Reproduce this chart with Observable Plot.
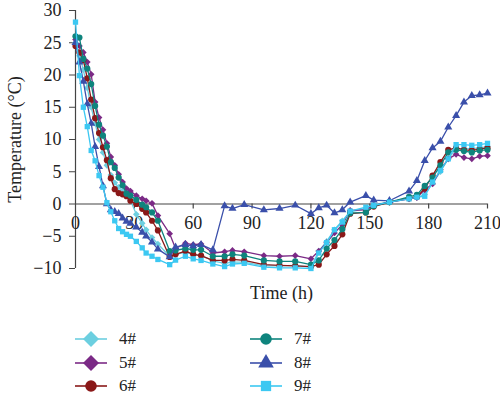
<!DOCTYPE html>
<html><head><meta charset="utf-8">
<script src="https://cdn.jsdelivr.net/npm/d3@7"></script>
<script src="https://cdn.jsdelivr.net/npm/@observablehq/plot@0.6"></script>
<style>
body{margin:0;background:#fff;font-family:"Liberation Serif","Times New Roman","DejaVu Serif",serif;}
#wrap{position:relative;width:500px;height:399px;overflow:hidden;}
#chart{position:absolute;left:0;top:0;}
#chart svg text{font-family:"Liberation Serif","Times New Roman","DejaVu Serif",serif;}
#legend{position:absolute;left:0;top:0;width:500px;height:399px;pointer-events:none;}
.item{position:absolute;display:flex;align-items:center;height:22px;font-size:17px;color:#222;}
.item svg{display:block;margin-right:12px;}
</style></head><body><div id="wrap"><div id="chart"></div><div id="legend"></div></div>
<script>
const hours = [0,2,4,6,8,10,12,14,16,18,20,22,24,26,28,31,34,36,39,42,48,51,56,60,64,70,76,80,86,96,104,112,120,124,128,132,136,140,148,152,160,170,174,178,182,186,190,194,198,202,206,210];
const s4 = [25.0,23.0,20.8,18.0,15.0,12.5,10.0,8.0,6.0,4.5,3.3,2.6,2.0,1.4,0.6,-1.6,-3.0,-4.0,-5.2,-6.2,-8.1,-7.8,-7.5,-7.8,-8.0,-8.8,-9.2,-9.0,-9.0,-9.6,-9.6,-9.5,-9.8,-7.3,-5.8,-4.0,-2.6,-1.2,-0.7,-0.1,0.3,0.8,1.0,1.5,3.2,5.0,7.0,8.6,8.6,8.6,8.7,8.9];
const s5 = [25.5,24.5,23.5,22.0,20.1,15.8,13.4,11.5,9.4,7.3,6.0,4.6,3.4,2.4,2.0,1.3,0.8,0.5,0.1,-1.8,-4.6,-6.9,-6.1,-6.3,-6.2,-7.6,-7.4,-7.2,-7.4,-8.0,-8.1,-8.0,-8.5,-7.3,-6.0,-4.5,-3.2,-1.0,-0.9,-0.2,0.3,0.8,1.0,2.2,3.1,5.3,7.0,7.7,7.2,7.0,7.4,7.5];
const s6 = [24.5,23.5,22.3,19.5,16.2,13.3,11.0,8.8,6.8,4.0,2.3,1.7,1.5,1.2,0.5,0.0,-0.75,-1.3,-2.6,-4.1,-8.2,-7.8,-7.3,-7.8,-8.0,-8.75,-8.75,-8.6,-8.75,-9.4,-9.5,-9.6,-9.7,-9.4,-7.8,-6.5,-4.7,-1.5,-1.3,-0.4,0.3,0.9,1.1,2.4,4.4,6.5,8.4,8.7,8.4,8.3,8.5,8.7];
const s7 = [26.0,25.8,22.5,21.0,18.6,15.2,12.3,10.6,8.9,6.5,5.6,4.1,2.9,1.6,1.3,0.65,-0.1,-0.5,-1.3,-2.6,-7.3,-7.2,-6.9,-7.1,-7.1,-8.1,-8.1,-7.8,-8.0,-8.75,-8.9,-8.9,-9.4,-8.75,-6.9,-5.6,-3.9,-1.4,-1.3,-0.3,0.3,1.1,1.4,2.8,4.1,6.0,8.0,8.4,8.2,8.0,8.3,8.4];
const s8 = [25.0,22.0,19.0,15.5,12.5,8.9,5.8,2.8,0.0,-0.9,-1.2,-1.5,-2.2,-2.7,-3.0,-3.6,-4.4,-5.0,-5.9,-7.0,-8.2,-6.7,-6.3,-6.5,-6.3,-7.1,-0.3,-0.7,-0.1,-0.9,-0.7,-0.2,-1.5,-0.6,-0.2,-1.4,-0.9,0.3,1.3,0.6,0.5,2.0,3.6,6.7,8.7,9.7,11.9,13.7,15.8,16.8,16.9,17.2];
const s9 = [28.2,19.9,15.0,12.0,8.3,6.7,4.4,2.6,0.2,-1.2,-2.6,-3.8,-4.3,-4.7,-5.0,-5.8,-6.8,-7.6,-8.1,-8.6,-9.4,-8.7,-8.1,-8.5,-8.75,-9.3,-9.7,-9.3,-9.2,-9.8,-9.9,-9.9,-10.0,-7.6,-6.0,-4.0,-2.8,-1.1,-0.5,-0.2,0.3,0.8,1.05,1.2,3.4,5.2,7.0,9.2,9.2,9.1,9.2,9.4];
const seriesNames = ["4#","5#","6#","7#","8#","9#"];
const seriesColors = ["#6ccfe0","#7b2a86","#8a1818","#0e847d","#3a4faa","#3cc8f2"];
const seriesSymbols = ["diamond2","diamond2","circle","circle","triangle","square"];
const xTicks = [0,30,60,90,120,150,180,210];
const yTicks = [-10,-5,0,5,10,15,20,25,30];
const xLabel = "Time (h)";
const yLabel = "Temperature (°C)";

const FONT = "'Liberation Serif','Times New Roman','DejaVu Serif',serif";
const seriesValues = [s4,s5,s6,s7,s8,s9];
const rows = seriesNames.map((name,k)=>hours.map((h,i)=>({series:name,hour:h,temp:seriesValues[k][i]})));
const dotR = [3.0,3.0,3.1,3.1,3.0,3.0];

const marks = [
  Plot.ruleY([0],{stroke:"#444",strokeWidth:1.2}),
  Plot.ruleX([0],{stroke:"#444",strokeWidth:1.2}),
  Plot.ruleX(xTicks.filter(d=>d>0),{x:d=>d,y1:0,y2:0,insetBottom:-5,stroke:"#444",strokeWidth:1.2}),
  Plot.text(xTicks,{x:d=>d,y:0,dy:19,text:d=>String(d),fontSize:18,fill:"#222",lineAnchor:"middle",fontFamily:FONT}),
  Plot.axisY({ticks:yTicks,tickSize:6,tickPadding:8,fontSize:18,label:null,stroke:"#444",color:"#222",fontFamily:FONT}),
  Plot.text([yLabel],{frameAnchor:"left",textAnchor:"middle",rotate:-90,dx:-60,fontSize:18,fill:"#222",fontFamily:FONT}),
  Plot.text([xLabel],{frameAnchor:"bottom",textAnchor:"middle",dy:30,fontSize:18,fill:"#222",fontFamily:FONT})
];
rows.forEach((r,k)=>{
  marks.push(Plot.line(r,{x:"hour",y:"temp",stroke:seriesColors[k],strokeWidth:1.3}));
  marks.push(Plot.dot(r,{x:"hour",y:"temp",fill:seriesColors[k],symbol:seriesSymbols[k],r:dotR[k],stroke:"none"}));
});

const chart = Plot.plot({
  width:500,height:320,
  marginLeft:75,marginRight:13,marginTop:10,marginBottom:52,
  style:{fontFamily:FONT,background:"#fff"},
  x:{domain:[0,210],axis:null},
  y:{domain:[-10,30],axis:null},
  marks
});
document.getElementById("chart").appendChild(chart);

// legend
const legend = document.getElementById("legend");
const legendSizes = {diamond2:7.2,circle:5.8,triangle:5.8,square:5.8};
const symbolMap = {diamond2:d3.symbolDiamond2,circle:d3.symbolCircle,triangle:d3.symbolTriangle,square:d3.symbolSquare};
seriesNames.forEach((name,k)=>{
  const col = Math.floor(k/3), row = k%3;
  const div = document.createElement("div");
  div.className="item";
  div.style.left = (col===0?75:250)+"px";
  div.style.top = (328+row*23.5)+"px";
  const sym = seriesSymbols[k];
  const rr = legendSizes[sym];
  const path = d3.symbol(symbolMap[sym], Math.PI*rr*rr)();
  div.innerHTML = `<svg width="32" height="22"><line x1="0" x2="32" y1="11" y2="11" stroke="${seriesColors[k]}" stroke-width="1.6"/><path d="${path}" transform="translate(16,11)" fill="${seriesColors[k]}"/></svg><span>${name}</span>`;
  legend.appendChild(div);
});
</script></body></html>
